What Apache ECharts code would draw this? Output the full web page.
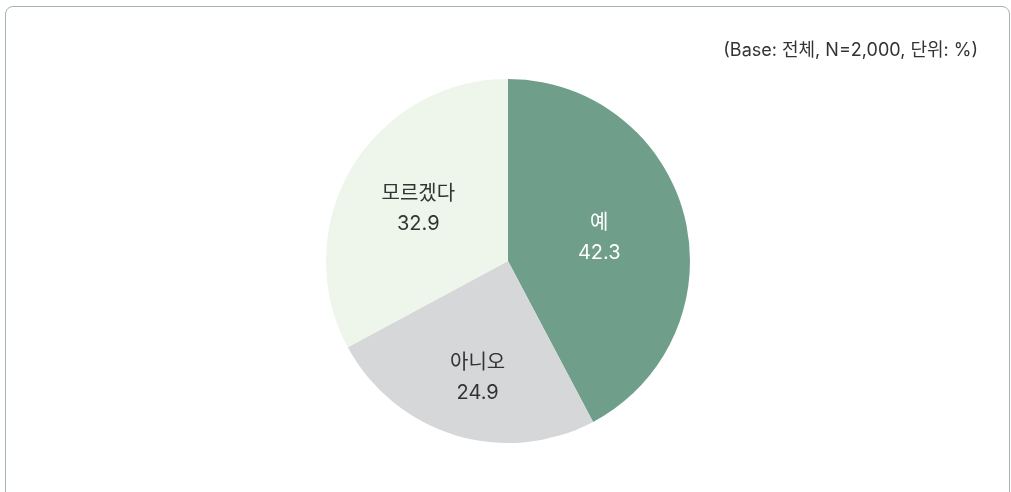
<!DOCTYPE html>
<html><head><meta charset="utf-8">
<script src="https://cdn.jsdelivr.net/npm/echarts@6/dist/echarts.min.js"></script>
<style>
html,body{margin:0;padding:0;background:#fff;}
#frame{position:absolute;left:5px;top:6px;width:1005px;height:520px;border:1.5px solid #a3b5ad;border-radius:8px;box-sizing:border-box;}
#main{position:absolute;left:0;top:0;width:1011px;height:492px;}
</style></head>
<body>
<div id="frame"></div>
<div id="main"></div>
<script>
const categories = ['예', '아니오', '모르겠다'];
const values = [42.3, 24.9, 32.9];
const colors = ['#6f9e8b', '#d6d7d9', '#eef5ea'];
const labelColors = ['#ffffff', '#333333', '#333333'];
const labelOffsets = [[0, 0], [-3, 27], [-9, -4]];
const subtitle = '(Base: 전체, N=2,000, 단위: %)';
const FONT = 'Inter, "Noto Sans CJK KR", sans-serif';

const chart = echarts.init(document.getElementById('main'), null, {renderer: 'canvas'});
chart.setOption({
  animation: false,
  title: {
    text: subtitle, right: 28, top: 37,
    textStyle: {fontFamily: FONT, fontSize: 18, fontWeight: 'normal', color: '#333'}
  },
  series: [{
    type: 'pie',
    center: [508, 261],
    radius: [0, 182],
    startAngle: 90,
    clockwise: true,
    label: {
      position: 'inside',
      formatter: p => p.name + '\n' + p.value.toFixed(1),
      fontFamily: FONT,
      fontSize: 20,
      lineHeight: 30
    },
    labelLine: {show: false},
    emphasis: {disabled: true},
    data: categories.map((c, i) => ({
      name: c, value: values[i],
      itemStyle: {color: colors[i]},
      label: {color: labelColors[i], offset: labelOffsets[i]}
    }))
  }]
});
</script>
</body></html>
